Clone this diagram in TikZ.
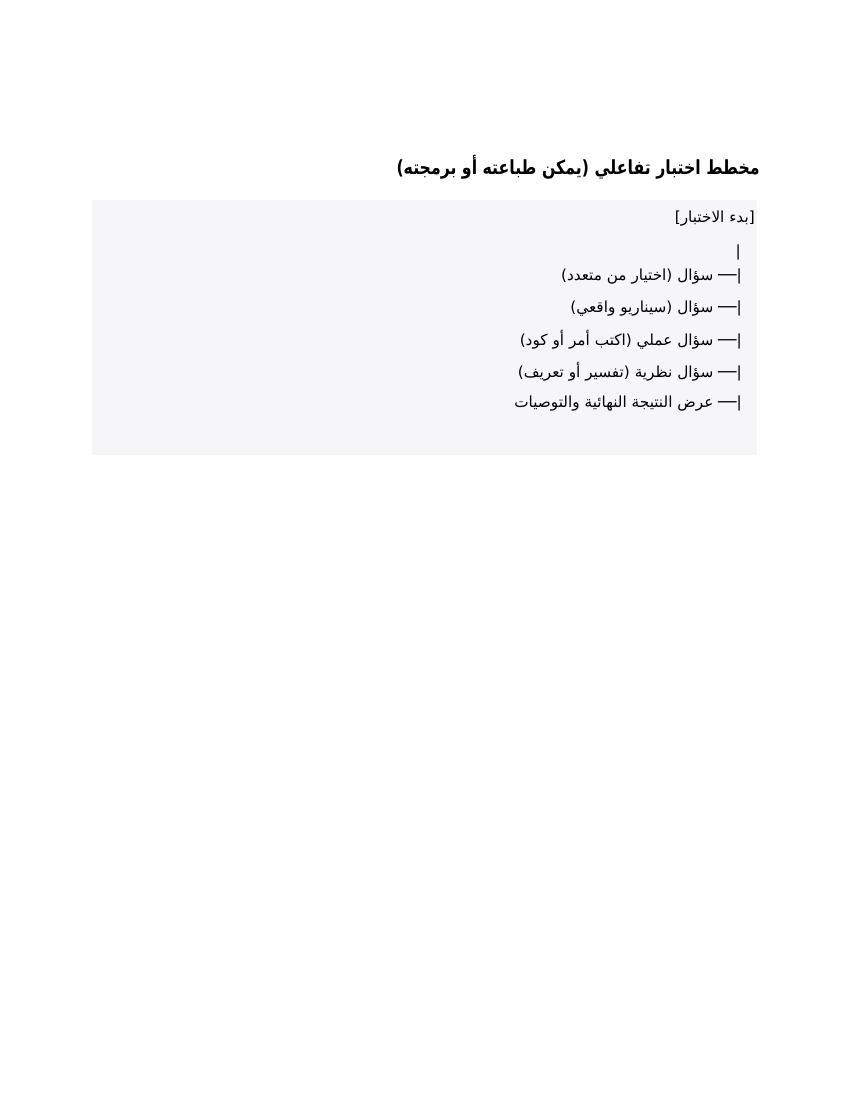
\documentclass[tikz,border=0pt]{standalone}
\usepackage{fontspec}
\setmainfont{DejaVu Sans}
\newfontfamily\arabicfont[Script=Arabic]{DejaVu Sans}
\newfontfamily\arabictitle[Script=Arabic,FakeStretch=0.81]{DejaVu Sans Bold}
\TeXXeTstate=1
\definecolor{boxbg}{HTML}{F6F6F8}
\tikzset{
  titletext/.style={anchor=east, inner sep=0pt, font=\arabictitle\fontsize{14}{16}\selectfont},
  itemtext/.style={anchor=east, inner sep=0pt, font=\arabicfont\fontsize{11}{13}\selectfont},
  panel/.style={fill=boxbg, draw=none, inner sep=0pt, minimum width=665*0.72pt, minimum height=255*0.72pt}
}
\begin{document}
\begin{tikzpicture}[x=0.72pt,y=-0.72pt]
\useasboundingbox (0,0) rectangle (850,1100);
\node[panel] (box) at (424.5,327.5) {};
\node[titletext] (title) at (760,167) {\beginR مخطط اختبار تفاعلي (يمكن طباعته أو برمجته)\endR};
\node[itemtext] (start) at (755,219) {\beginR [بدء الاختبار]\endR};
\node[itemtext] (bar) at (741,252) {|};
\node[itemtext] (q1) at (742,277) {\beginR |── سؤال (اختيار من متعدد)\endR};
\node[itemtext] (q2) at (742,309) {\beginR |── سؤال (سيناريو واقعي)\endR};
\node[itemtext] (q3) at (742,340) {\beginR |── سؤال عملي (اكتب أمر أو كود)\endR};
\node[itemtext] (q4) at (742,372) {\beginR |── سؤال نظرية (تفسير أو تعريف)\endR};
\node[itemtext] (q5) at (742,404) {\beginR |── عرض النتيجة النهائية والتوصيات\endR};
\end{tikzpicture}
\end{document}
